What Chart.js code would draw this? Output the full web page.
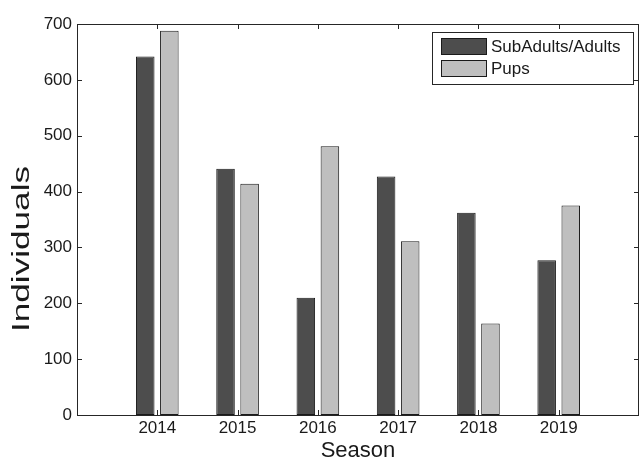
<!DOCTYPE html>
<html>
<head>
<meta charset="utf-8">
<script src="https://cdn.jsdelivr.net/npm/chart.js@4.4.1/dist/chart.umd.min.js"></script>
<style>
  html, body { margin: 0; padding: 0; background: #ffffff; }
  canvas { display: block; }
</style>
</head>
<body>
<canvas id="c" width="642" height="462"></canvas>
<script>
// ---- data ----
const categories = ['2014', '2015', '2016', '2017', '2018', '2019'];
const subAdultsAdults = [642, 441, 210, 427, 362, 277];
const pups = [688, 414, 481, 311, 164, 375];
const seriesNames = ['SubAdults/Adults', 'Pups'];
const yTickValues = [0, 100, 200, 300, 400, 500, 600, 700];
const xTitle = 'Season';
const yTitle = 'Individuals';

// padded axis (empty slot on each side, as in the reference)
const labels = [''].concat(categories, ['']);
const padSeries = arr => [null].concat(arr, [null]);

const FONT = 'Liberation Sans, Arial, Helvetica, sans-serif';
const INK = '#1a1a1a';
const DARK = '#4d4d4d';
const LIGHT = '#bfbfbf';

const framePlugin = {
  id: 'frame',
  afterDatasetsDraw(chart) {
    const { ctx, chartArea: a, scales } = chart;
    ctx.save();
    ctx.strokeStyle = '#262626';
    ctx.lineWidth = 1;
    ctx.beginPath();
    ctx.rect(Math.round(a.left) + 0.5, Math.round(a.top) + 0.5,
             Math.round(a.right - a.left) - 1, Math.round(a.bottom - a.top));
    ctx.stroke();
    // inward ticks
    const tl = 5;
    ctx.beginPath();
    yTickValues.forEach(v => {
      const y = Math.round(scales.y.getPixelForValue(v)) + 0.5;
      ctx.moveTo(a.left, y); ctx.lineTo(a.left + tl, y);
      ctx.moveTo(a.right, y); ctx.lineTo(a.right - tl, y);
    });
    categories.forEach((c, i) => {
      const x = Math.round(scales.x.getPixelForValue(i + 1)) + 0.5;
      ctx.moveTo(x, a.bottom); ctx.lineTo(x, a.bottom - tl);
      ctx.moveTo(x, a.top); ctx.lineTo(x, a.top + tl);
    });
    ctx.stroke();
    ctx.restore();
  },
  afterDraw(chart) {
    const { ctx, chartArea: a } = chart;
    // legend box
    ctx.save();
    const bx = 432.5, by = 32.5, bw = 201, bh = 52;
    ctx.fillStyle = '#ffffff';
    ctx.fillRect(bx, by, bw, bh);
    ctx.strokeStyle = '#262626';
    ctx.lineWidth = 1;
    ctx.strokeRect(bx, by, bw, bh);
    chart.data.datasets.forEach((ds, i) => {
      const sy = 38.5 + i * 22;
      ctx.fillStyle = ds.backgroundColor;
      ctx.fillRect(441.5, sy, 45, 16);
      ctx.strokeStyle = INK;
      ctx.strokeRect(441.5, sy, 45, 16);
      ctx.fillStyle = INK;
      ctx.font = '17px ' + FONT;
      ctx.textBaseline = 'middle';
      ctx.textAlign = 'left';
      ctx.fillText(ds.label, 491, sy + 8.5);
    });
    // y-axis title
    ctx.font = '23px ' + FONT;
    const w = ctx.measureText(yTitle).width;
    ctx.translate(23, 249);
    ctx.rotate(-Math.PI / 2);
    ctx.scale(166 / w, 1);
    ctx.textAlign = 'center';
    ctx.textBaseline = 'middle';
    ctx.fillStyle = INK;
    ctx.fillText(yTitle, 0, 0);
    ctx.restore();
  }
};

new Chart(document.getElementById('c'), {
  type: 'bar',
  data: {
    labels: labels,
    datasets: [
      { label: seriesNames[0], data: padSeries(subAdultsAdults),
        backgroundColor: DARK, borderColor: INK, borderWidth: 1, borderSkipped: false },
      { label: seriesNames[1], data: padSeries(pups),
        backgroundColor: LIGHT, borderColor: INK, borderWidth: 1, borderSkipped: false }
    ]
  },
  options: {
    responsive: false,
    animation: false,
    devicePixelRatio: 1,
    layout: { padding: { top: 24, right: 3, left: 0, bottom: 0 } },
    datasets: { bar: { categoryPercentage: 0.6, barPercentage: 0.77 } },
    plugins: { legend: { display: false }, tooltip: { enabled: false } },
    scales: {
      x: {
        type: 'category',
        offset: false,
        grid: { display: false, drawTicks: false },
        border: { display: false },
        ticks: { color: INK, font: { family: FONT, size: 17 }, padding: 3, autoSkip: false, maxRotation: 0 },
        title: { display: true, text: xTitle, color: INK,
                 font: { family: FONT, size: 22, lineHeight: 1.0 }, padding: 0 },
        afterFit(scale) { scale.height = 47; }
      },
      y: {
        min: 0, max: 700,
        grid: { display: false, drawTicks: false },
        border: { display: false },
        afterBuildTicks(scale) { scale.ticks = yTickValues.map(v => ({ value: v })); },
        ticks: { color: INK, font: { family: FONT, size: 17 }, padding: 5 },
        title: { display: false },
        afterFit(scale) { scale.width = 77; }
      }
    }
  },
  plugins: [framePlugin]
});
</script>
</body>
</html>
